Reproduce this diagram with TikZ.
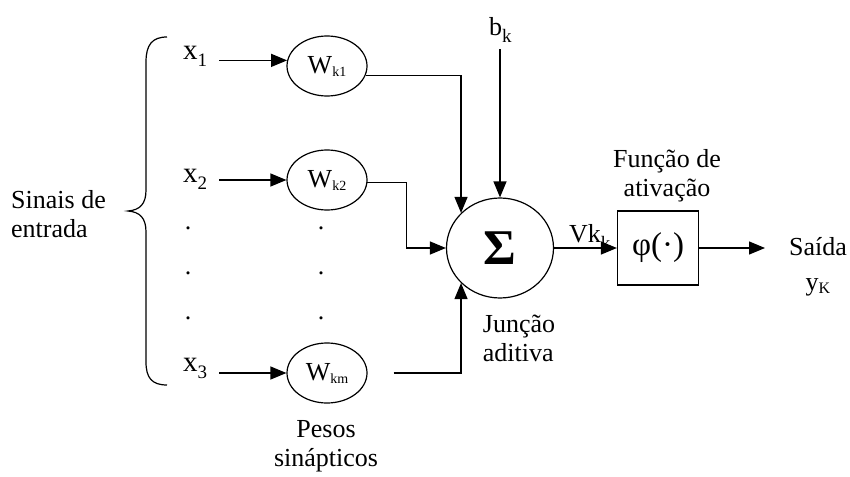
\documentclass[tikz,border=0pt]{standalone}
\usepackage{fontspec}
\setmainfont{Liberation Serif}
\usetikzlibrary{arrows.meta,shapes.geometric}
\newcommand{\lsub}[1]{\raisebox{-7pt}{\fontsize{19}{19}\selectfont #1}}
\newcommand{\wsub}[1]{\raisebox{-3pt}{\fontsize{14}{14}\selectfont #1}}
\begin{document}
\begin{tikzpicture}[x=1pt,y=-1pt,
  every node/.style={font=\fontsize{26}{29}\selectfont, inner sep=0pt},
  wt/.style={draw, ellipse, minimum width=80pt, minimum height=60pt, line width=1.2pt},
  arr/.style={-{Triangle[length=16pt,width=13pt]}, line width=1.3pt},
  xl/.style={font=\fontsize{29}{29}\selectfont}]
\useasboundingbox (0,0) rectangle (850,476);

% brace
\draw[line width=1.2pt] (167,37) .. controls (152,37) and (146,45) .. (146,62)
  -- (146,190) .. controls (146,204) and (140,210) .. (128,211)
  .. controls (140,212) and (146,218) .. (146,232)
  -- (146,362) .. controls (146,378) and (152,385) .. (167,385);

\node[align=left, anchor=west] (sinais) at (11,214) {Sinais de\\entrada};

% inputs
\node[xl] (x1) at (195,56) {x\lsub{1}};
\node[xl] (x2) at (195,179) {x\lsub{2}};
\node[xl] (x3) at (195,368) {x\lsub{3}};

\node (d1) at (188,228) {.};
\node (d2) at (188,273) {.};
\node (d3) at (188,318) {.};
\node (d4) at (321,228) {.};
\node (d5) at (321,273) {.};
\node (d6) at (321,318) {.};

% weights
\node[wt] (w1) at (327,66) {W\wsub{k1}};
\node[wt] (w2) at (327,180) {W\wsub{k2}};
\node[wt] (wm) at (327,373) {W\wsub{km}};

\node[align=center] (pesos) at (326,446) {Pesos\\sinápticos};

% summing junction
\node[draw, ellipse, minimum width=107pt, minimum height=100pt, line width=1.2pt,
  font=\fontsize{50}{50}\selectfont\bfseries] (sig) at (500,248) {Σ};
\node[anchor=base west] (bk) at (489,36) {b\lsub{k}};
\node[align=left] (junc) at (519,338) {Junção\\aditiva};

% activation
\node[draw, minimum width=81pt, minimum height=74pt, line width=1.2pt,
  font=\fontsize{33}{33}\selectfont] (phi) at (658,248) {φ(·)};
\node[align=center] (func) at (667,176) {Função de\\ativação};
\node[anchor=base west] (vk) at (569,242) {Vk\lsub{k}};

% output
\coordinate (outend) at (765,248);
\node[anchor=base] (sai) at (818,255) {Saída};
\node[anchor=base] (yk) at (818,290) {y\wsub{\fontsize{16}{16}\selectfont K}};

% connectors
\draw[arr, shorten <=12pt] (x1.east |- w1.172) -- (w1.172);
\draw[arr, shorten <=12pt] (x2.east |- w2.west) -- (w2.west);
\draw[arr, shorten <=12pt] (x3.east |- wm.west) -- (wm.west);

\draw[arr] (w1.-14) -| (sig.138);
\draw[arr] (w2.-4) -- ++(39,0) |- (sig.west);
\draw[arr, shorten <=26pt] (wm.east) -| (sig.-138);
\draw[arr, shorten <=6pt] (sig.north |- bk.south) -- (sig.north);

\draw[arr] (sig.east) -- (phi.west);
\draw[arr] (phi.east) -- (outend);
\end{tikzpicture}
\end{document}
